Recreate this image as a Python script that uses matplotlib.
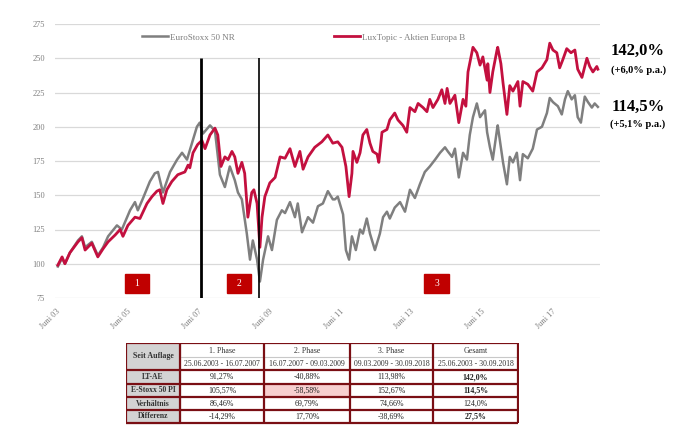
import numpy as np
import pandas as pd
import matplotlib
matplotlib.use("Agg")
import matplotlib.pyplot as plt
from matplotlib.patches import Rectangle

plt.rcParams['font.family'] = ['Liberation Serif', 'DejaVu Serif']

# Zeitachse in Dezimaljahren, Werte indexiert (Start = 100)
jahre_lux = [2003.49, 2003.61, 2003.69, 2003.83, 2004.06, 2004.17, 2004.26, 2004.45, 2004.62, 2004.77,
             2004.91, 2005.11, 2005.25, 2005.33, 2005.47, 2005.67, 2005.81, 2006.01, 2006.15, 2006.29,
             2006.37, 2006.46, 2006.57, 2006.71, 2006.88, 2007.08, 2007.17, 2007.22, 2007.31, 2007.44,
             2007.56, 2007.65, 2007.79, 2007.93, 2008.01, 2008.10, 2008.21, 2008.30, 2008.41, 2008.49,
             2008.58, 2008.69, 2008.77, 2008.86, 2008.97, 2009.03, 2009.12, 2009.20, 2009.26, 2009.34,
             2009.48, 2009.63, 2009.77, 2009.91, 2010.05, 2010.19, 2010.33, 2010.42, 2010.56, 2010.75,
             2010.95, 2011.12, 2011.26, 2011.40, 2011.52, 2011.63, 2011.72, 2011.80, 2011.83, 2011.94,
             2012.03, 2012.11, 2012.22, 2012.31, 2012.39, 2012.51, 2012.56, 2012.65, 2012.79, 2012.87,
             2013.01, 2013.10, 2013.24, 2013.35, 2013.44, 2013.58, 2013.67, 2013.81, 2013.92, 2014.00,
             2014.09, 2014.23, 2014.34, 2014.43, 2014.49, 2014.57, 2014.71, 2014.82, 2014.94, 2015.02,
             2015.08, 2015.22, 2015.33, 2015.42, 2015.50, 2015.62, 2015.64, 2015.70, 2015.78, 2015.90,
             2015.92, 2016.01, 2016.07, 2016.18, 2016.26, 2016.35, 2016.49, 2016.55, 2016.63, 2016.77,
             2016.91, 2017.03, 2017.17, 2017.31, 2017.39, 2017.48, 2017.59, 2017.67, 2017.76, 2017.87,
             2017.99, 2018.10, 2018.18, 2018.30, 2018.44, 2018.52, 2018.61, 2018.72, 2018.75]
werte_lux = [99, 105, 100, 108, 116, 119, 110, 115, 105, 111,
             116, 121, 125, 120, 128, 134, 133, 144, 149, 153,
             154, 144, 154, 160, 165, 167, 172, 170, 181, 187,
             190, 184, 194, 199, 194, 171, 178, 176, 182, 178,
             166, 174, 166, 134, 152, 154, 144, 112, 134, 149,
             159, 163, 178, 177, 184, 171, 182, 169, 178, 185,
             189, 194, 188, 189, 185, 171, 149, 166, 182, 174,
             181, 194, 198, 188, 182, 180, 174, 196, 198, 205,
             210, 205, 201, 196, 214, 211, 217, 214, 211, 220,
             214, 220, 227, 217, 228, 217, 223, 203, 220, 215,
             240, 258, 254, 245, 251, 234, 246, 225, 240, 256,
             258, 246, 232, 209, 230, 226, 233, 215, 233, 231,
             226, 240, 243, 249, 261, 256, 254, 243, 249, 257,
             254, 256, 242, 236, 250, 244, 240, 244, 242]

jahre_stoxx = [2003.49, 2003.61, 2003.69, 2003.83, 2004.06, 2004.17, 2004.26, 2004.45, 2004.62, 2004.77,
               2004.91, 2005.16, 2005.30, 2005.53, 2005.67, 2005.75, 2005.90, 2006.09, 2006.23, 2006.32,
               2006.46, 2006.66, 2006.86, 2007.00, 2007.14, 2007.28, 2007.42, 2007.50, 2007.59, 2007.79,
               2007.93, 2008.07, 2008.21, 2008.35, 2008.49, 2008.58, 2008.69, 2008.83, 2008.92, 2009.00,
               2009.12, 2009.20, 2009.29, 2009.43, 2009.54, 2009.68, 2009.82, 2009.91, 2010.05, 2010.19,
               2010.27, 2010.39, 2010.56, 2010.70, 2010.84, 2010.98, 2011.12, 2011.26, 2011.32, 2011.40,
               2011.55, 2011.63, 2011.72, 2011.80, 2011.91, 2012.03, 2012.11, 2012.22, 2012.31, 2012.45,
               2012.59, 2012.68, 2012.79, 2012.87, 2013.01, 2013.16, 2013.30, 2013.44, 2013.58, 2013.72,
               2013.86, 2014.00, 2014.15, 2014.29, 2014.43, 2014.51, 2014.63, 2014.71, 2014.82, 2014.94,
               2015.05, 2015.13, 2015.22, 2015.33, 2015.42, 2015.56, 2015.62, 2015.70, 2015.78, 2015.90,
               2015.92, 2016.01, 2016.07, 2016.18, 2016.26, 2016.35, 2016.46, 2016.55, 2016.63, 2016.77,
               2016.91, 2017.03, 2017.17, 2017.31, 2017.39, 2017.48, 2017.62, 2017.73, 2017.82, 2017.90,
               2018.01, 2018.10, 2018.18, 2018.27, 2018.38, 2018.47, 2018.58, 2018.66, 2018.75]
werte_stoxx = [98, 104, 100, 108, 117, 120, 112, 116, 106, 112,
               120, 128, 125, 139, 145, 139, 148, 160, 166, 167,
               152, 167, 176, 181, 176, 188, 200, 203, 195, 201,
               197, 165, 156, 171, 161, 152, 147, 122, 103, 117,
               103, 87, 103, 120, 110, 132, 139, 137, 145, 134,
               144, 123, 134, 130, 142, 144, 153, 147, 147, 149,
               136, 110, 103, 120, 110, 125, 122, 133, 122, 110,
               122, 134, 138, 133, 141, 145, 138, 154, 148, 158,
               167, 171, 176, 181, 185, 182, 178, 184, 163, 181,
               176, 194, 207, 217, 207, 212, 196, 185, 176, 198,
               201, 185, 174, 158, 178, 174, 181, 161, 180, 177,
               184, 198, 200, 210, 221, 218, 215, 209, 220, 226,
               220, 223, 207, 203, 222, 218, 214, 217, 214.5]

phasen_daten = ["25.06.2003", "16.07.2007", "09.03.2009", "30.09.2018"]
phasen_nr = ["1", "2", "3"]

tick_jahre = [2003.45, 2005.45, 2007.45, 2009.45, 2011.45, 2013.45, 2015.45, 2017.45]
tick_labels = ["Juni 03", "Juni 05", "Juni 07", "Juni 09", "Juni 11", "Juni 13", "Juni 15", "Juni 17"]

gesamt_lux = "142,0%"
pa_lux = "(+6,0% p.a.)"
gesamt_stoxx = "114,5%"
pa_stoxx = "(+5,1% p.a.)"

tab_kopf = ["1. Phase", "2. Phase", "3. Phase", "Gesamt"]
tab_zeitraum = ["25.06.2003 - 16.07.2007", "16.07.2007 - 09.03.2009",
                "09.03.2009 - 30.09.2018", "25.06.2003 - 30.09.2018"]
tab_zeilen = ["LT-AE", "E-Stoxx 50 PI", "Verhältnis", "Differenz"]
tab_werte = [["91,27%", "-40,88%", "113,98%", "142,0%"],
             ["105,57%", "-58,58%", "152,67%", "114,5%"],
             ["86,46%", "69,79%", "74,66%", "124,0%"],
             ["-14,29%", "17,70%", "-38,69%", "27,5%"]]


def dezimaljahr(s):
    d = pd.to_datetime(s, dayfirst=True)
    return d.year + (d.dayofyear - 1) / 365.25


grenzen = [dezimaljahr(s) for s in phasen_daten]

rot = "#c3103f"
grau = "#7f7f7f"
textgrau = "#7f7f7f"

fig = plt.figure(figsize=(6.81, 4.29), dpi=100)
ax = fig.add_axes([55 / 681, 1 - 298 / 429, 545 / 681, 274 / 429])

ax.plot(jahre_stoxx, werte_stoxx, color=grau, lw=1.8, label="EuroStoxx 50 NR", zorder=3)
ax.plot(jahre_lux, werte_lux, color=rot, lw=2.0, label="LuxTopic - Aktien Europa B", zorder=4)

ax.set_xlim(2003.41, 2018.81)
ax.set_ylim(75, 275)
ax.set_yticks(np.arange(75, 276, 25))
ax.grid(axis='y', color="#d9d9d9", lw=0.9)
ax.set_axisbelow(True)
for s in ax.spines.values():
    s.set_visible(False)
ax.tick_params(length=0)
ax.tick_params(axis='y', labelsize=6, labelcolor=textgrau, pad=7)
ax.set_xticks(tick_jahre)
ax.set_xticklabels(tick_labels, rotation=45, ha='right', rotation_mode='anchor',
                   fontsize=6, color=textgrau)
ax.tick_params(axis='x', pad=7)

# Phasengrenzen
ax.vlines(grenzen[1], 75, 250, color='black', lw=2.0, zorder=5)
ax.vlines(grenzen[2], 75, 250, color='black', lw=1.2, zorder=5)

box_mitte = [2005.73, 2008.61, 2014.19]
for xm, nr in zip(box_mitte, phasen_nr):
    ax.add_patch(Rectangle((xm - 0.34, 78.7), 0.68, 13.8, color="#c00000", zorder=6))
    ax.text(xm, 85.6, nr, color='white', fontsize=7, ha='center', va='center', zorder=7)

ax.legend(loc='center', bbox_to_anchor=(0.456, 0.951), ncol=2, frameon=False, fontsize=6.5,
          handlelength=2.9, handletextpad=0.2, columnspacing=11.0, labelcolor=textgrau)

fig.text(0.937, 1 - 50.5 / 429, gesamt_lux, fontsize=12, fontweight='bold', ha='center', va='center')
fig.text(0.937, 1 - 70.5 / 429, pa_lux, fontsize=7.5, fontweight='bold', ha='center', va='center')
fig.text(0.937, 1 - 106.5 / 429, gesamt_stoxx, fontsize=12, fontweight='bold', ha='center', va='center')
fig.text(0.937, 1 - 124 / 429, pa_stoxx, fontsize=7.5, fontweight='bold', ha='center', va='center')

# Tabelle
tab = fig.add_axes([126 / 681, 1 - 426 / 429, 393 / 681, 83 / 429])
tab.set_xlim(0, 393)
tab.set_ylim(83, 0)
tab.axis('off')
col_x = [0, 54, 138, 224, 307, 392]
row_y = [0, 27, 41, 54, 67, 80]
dunkelrot = "#7a0f14"

tab.add_patch(Rectangle((0, 0), 54, 80, color="#d3d3d3", zorder=1))
tab.add_patch(Rectangle((138, 41), 86, 13, color="#f7cfcf", zorder=1))
tab.hlines(14, 54, 392, color="#c8c8c8", lw=0.8, zorder=2)
for x in col_x:
    tab.vlines(x, 0, 80, color=dunkelrot, lw=1.6, zorder=3)
for y in row_y:
    tab.hlines(y, 0, 392, color=dunkelrot, lw=1.6, zorder=3)

fs = 5.7
tab.text(27, 13.5, "Seit Auflage", fontsize=fs, fontweight='bold', ha='center', va='center', color="#333333")
for i in range(4):
    xm = (col_x[i + 1] + col_x[i + 2]) / 2
    tab.text(xm, 8, tab_kopf[i], fontsize=fs, ha='center', va='center', color="#333333")
    tab.text(xm, 20.5, tab_zeitraum[i], fontsize=5.6, ha='center', va='center', color="#333333")
for r in range(4):
    ym = (row_y[r + 1] + row_y[r + 2]) / 2
    tab.text(27, ym, tab_zeilen[r], fontsize=5.5, fontweight='bold', ha='center', va='center', color="#333333")
    for c in range(4):
        xm = (col_x[c + 1] + col_x[c + 2]) / 2
        fett = c == 3 and r != 2
        tab.text(xm, ym, tab_werte[r][c], fontsize=fs, ha='center', va='center', color="#222222",
                 fontweight='bold' if fett else 'normal')

fig.savefig("out.png", dpi=100)
